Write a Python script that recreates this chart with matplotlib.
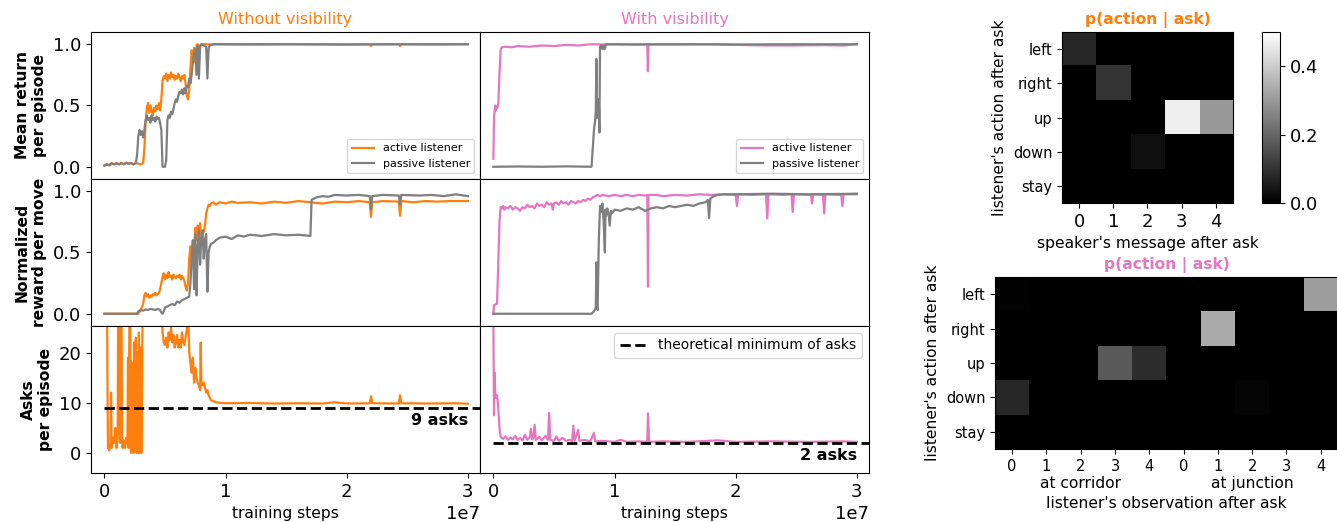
import matplotlib
matplotlib.use('Agg')
import matplotlib.pyplot as plt
import numpy as np

ORANGE = '#ff7f0e'
PINK = '#e377c2'
GRAY = '#7f7f7f'

# training curves, (steps in units of 1e7, value)
ret_nv_active = [(0.00, 0.01), (0.02, 0.02), (0.04, 0.015), (0.06, 0.03), (0.08, 0.02), (0.10, 0.025),
                 (0.12, 0.02), (0.14, 0.03), (0.16, 0.02), (0.18, 0.035), (0.20, 0.025), (0.22, 0.03),
                 (0.24, 0.02), (0.26, 0.03), (0.28, 0.025), (0.30, 0.02), (0.32, 0.03), (0.33, 0.15),
                 (0.34, 0.35), (0.35, 0.48), (0.36, 0.52), (0.37, 0.44), (0.38, 0.50), (0.39, 0.46),
                 (0.40, 0.42), (0.41, 0.48), (0.42, 0.45), (0.43, 0.50), (0.44, 0.47), (0.45, 0.52),
                 (0.46, 0.46), (0.47, 0.55), (0.48, 0.70), (0.49, 0.74), (0.50, 0.72), (0.51, 0.76),
                 (0.52, 0.70), (0.53, 0.75), (0.54, 0.72), (0.55, 0.77), (0.56, 0.73), (0.57, 0.75),
                 (0.58, 0.71), (0.59, 0.74), (0.60, 0.72), (0.61, 0.76), (0.62, 0.73), (0.63, 0.70),
                 (0.64, 0.74), (0.65, 0.72), (0.66, 0.75), (0.67, 0.68), (0.68, 0.58), (0.69, 0.55),
                 (0.70, 0.62), (0.71, 0.80), (0.72, 0.95), (0.73, 0.88), (0.74, 0.97), (0.75, 0.85),
                 (0.76, 0.99), (0.77, 1.0), (0.78, 0.98), (0.80, 1.0), (0.90, 1.0), (1.20, 0.998),
                 (1.60, 1.0), (2.00, 0.998), (2.19, 1.0), (2.20, 0.985), (2.21, 1.0), (2.43, 1.0),
                 (2.44, 0.985), (2.45, 1.0), (2.70, 0.998), (3.00, 1.0)]
ret_nv_passive = [(0.00, 0.01), (0.02, 0.02), (0.04, 0.01), (0.06, 0.025), (0.08, 0.02), (0.10, 0.03),
                  (0.12, 0.02), (0.14, 0.03), (0.16, 0.02), (0.18, 0.03), (0.20, 0.025), (0.22, 0.03),
                  (0.24, 0.02), (0.26, 0.03), (0.27, 0.10), (0.28, 0.25), (0.29, 0.30), (0.30, 0.26),
                  (0.31, 0.29), (0.32, 0.24), (0.33, 0.30), (0.34, 0.38), (0.35, 0.42), (0.36, 0.38),
                  (0.37, 0.40), (0.38, 0.36), (0.39, 0.42), (0.40, 0.38), (0.41, 0.40), (0.42, 0.37),
                  (0.43, 0.41), (0.44, 0.39), (0.45, 0.40), (0.46, 0.36), (0.47, 0.30), (0.48, 0.0),
                  (0.50, 0.0), (0.51, 0.05), (0.52, 0.38), (0.53, 0.42), (0.54, 0.40), (0.55, 0.45),
                  (0.56, 0.43), (0.57, 0.47), (0.58, 0.52), (0.59, 0.55), (0.60, 0.53), (0.61, 0.58),
                  (0.62, 0.61), (0.63, 0.60), (0.64, 0.63), (0.65, 0.59), (0.66, 0.64), (0.67, 0.60),
                  (0.68, 0.66), (0.69, 0.65), (0.70, 0.72), (0.71, 0.68), (0.72, 0.75), (0.73, 0.85),
                  (0.74, 0.93), (0.75, 0.96), (0.76, 0.75), (0.77, 0.99), (0.78, 0.72), (0.79, 0.98),
                  (0.80, 1.0), (0.82, 0.99), (0.84, 0.98), (0.85, 0.72), (0.86, 0.97), (0.87, 0.99),
                  (0.90, 1.0), (1.50, 1.0), (2.00, 0.998), (2.50, 1.0), (3.00, 1.0)]

nrm_nv_active = [(0.00, 0.0), (0.28, 0.0), (0.30, 0.03), (0.32, 0.08), (0.33, 0.15), (0.34, 0.17),
                 (0.35, 0.14), (0.36, 0.16), (0.37, 0.13), (0.38, 0.15), (0.39, 0.14), (0.40, 0.16),
                 (0.41, 0.15), (0.42, 0.17), (0.43, 0.15), (0.44, 0.16), (0.45, 0.17), (0.46, 0.20),
                 (0.47, 0.25), (0.48, 0.30), (0.49, 0.33), (0.50, 0.28), (0.51, 0.32), (0.52, 0.29),
                 (0.53, 0.34), (0.54, 0.30), (0.55, 0.31), (0.56, 0.28), (0.57, 0.32), (0.58, 0.30),
                 (0.59, 0.29), (0.60, 0.31), (0.61, 0.30), (0.62, 0.32), (0.63, 0.28), (0.64, 0.31),
                 (0.65, 0.29), (0.66, 0.27), (0.67, 0.22), (0.68, 0.19), (0.69, 0.25), (0.70, 0.45),
                 (0.71, 0.55), (0.72, 0.40), (0.73, 0.58), (0.74, 0.50), (0.75, 0.70), (0.76, 0.60),
                 (0.77, 0.72), (0.78, 0.65), (0.79, 0.74), (0.80, 0.64), (0.81, 0.66), (0.82, 0.67),
                 (0.83, 0.72), (0.84, 0.82), (0.85, 0.86), (0.86, 0.89), (0.87, 0.88), (0.88, 0.90),
                 (0.90, 0.91), (0.92, 0.89), (0.95, 0.91), (1.00, 0.90), (1.05, 0.915), (1.10, 0.905),
                 (1.20, 0.91), (1.30, 0.90), (1.40, 0.915), (1.50, 0.905), (1.60, 0.92), (1.70, 0.91),
                 (1.80, 0.90), (1.90, 0.915), (2.00, 0.91), (2.10, 0.92), (2.19, 0.91), (2.20, 0.79),
                 (2.21, 0.91), (2.30, 0.92), (2.43, 0.915), (2.44, 0.80), (2.45, 0.92), (2.55, 0.91),
                 (2.65, 0.92), (2.75, 0.915), (2.85, 0.92), (3.00, 0.92)]
nrm_nv_passive = [(0.00, 0.0), (0.27, 0.0), (0.28, 0.02), (0.30, 0.03), (0.32, 0.025), (0.34, 0.035),
                  (0.36, 0.03), (0.38, 0.04), (0.40, 0.035), (0.42, 0.03), (0.44, 0.04), (0.46, 0.03),
                  (0.47, 0.01), (0.48, 0.0), (0.49, 0.02), (0.50, 0.05), (0.52, 0.06), (0.54, 0.07),
                  (0.56, 0.08), (0.58, 0.07), (0.60, 0.10), (0.62, 0.09), (0.64, 0.11), (0.66, 0.12),
                  (0.68, 0.13), (0.70, 0.14), (0.71, 0.25), (0.72, 0.45), (0.73, 0.60), (0.74, 0.20),
                  (0.75, 0.65), (0.76, 0.15), (0.77, 0.55), (0.78, 0.68), (0.79, 0.40), (0.80, 0.62),
                  (0.81, 0.68), (0.82, 0.45), (0.83, 0.60), (0.84, 0.65), (0.85, 0.18), (0.86, 0.50),
                  (0.87, 0.55), (0.88, 0.57), (0.90, 0.58), (0.92, 0.60), (0.95, 0.62), (1.00, 0.63),
                  (1.05, 0.61), (1.10, 0.64), (1.15, 0.63), (1.20, 0.645), (1.30, 0.635), (1.40, 0.65),
                  (1.50, 0.64), (1.60, 0.645), (1.70, 0.635), (1.71, 0.93), (1.75, 0.95), (1.80, 0.96),
                  (1.85, 0.955), (1.90, 0.97), (2.00, 0.965), (2.10, 0.97), (2.19, 0.96), (2.20, 0.85),
                  (2.21, 0.96), (2.30, 0.97), (2.43, 0.965), (2.44, 0.89), (2.45, 0.97), (2.60, 0.965),
                  (2.70, 0.97), (2.80, 0.96), (2.90, 0.975), (3.00, 0.96)]

asks_nv = [(0.02, 40), (0.025, 16), (0.03, 1.0), (0.04, 0.5), (0.05, 2), (0.055, 12), (0.06, 1),
           (0.07, 3), (0.08, 2), (0.09, 5), (0.10, 1), (0.11, 3), (0.115, 40), (0.12, 30), (0.13, 2),
           (0.14, 40), (0.145, 3), (0.15, 1), (0.16, 2.5), (0.17, 1), (0.18, 3), (0.19, 2), (0.195, 19),
           (0.20, 1), (0.21, 40), (0.22, 0), (0.23, 18), (0.24, 0), (0.245, 22), (0.25, 1), (0.26, 23),
           (0.265, 0), (0.27, 20), (0.28, 0), (0.285, 24), (0.29, 0), (0.30, 21), (0.305, 0), (0.31, 13),
           (0.32, 40), (0.40, 45), (0.46, 38), (0.47, 30), (0.48, 24), (0.49, 22), (0.50, 21.5),
           (0.51, 23), (0.52, 21), (0.53, 24), (0.54, 22.5), (0.55, 25), (0.56, 22), (0.57, 23.5),
           (0.58, 21), (0.59, 22), (0.60, 23.5), (0.61, 21), (0.62, 22.5), (0.63, 21), (0.64, 24),
           (0.65, 22), (0.66, 21.5), (0.67, 23), (0.68, 24.5), (0.69, 30), (0.70, 20), (0.71, 18),
           (0.72, 16), (0.73, 19), (0.74, 14), (0.75, 17), (0.76, 15), (0.77, 14), (0.78, 13.5),
           (0.79, 12.5), (0.795, 22), (0.80, 14), (0.81, 13.5), (0.82, 14), (0.83, 13), (0.84, 12),
           (0.85, 12.5), (0.86, 11.5), (0.87, 11), (0.88, 10.5), (0.90, 10.3), (0.92, 10.1),
           (0.95, 10.0), (1.00, 9.9), (1.20, 9.95), (1.40, 9.85), (1.60, 9.9), (1.80, 9.85),
           (1.90, 10.1), (2.00, 9.85), (2.19, 9.9), (2.20, 11.3), (2.21, 9.9), (2.43, 9.85),
           (2.44, 11.5), (2.45, 9.9), (2.70, 9.85), (2.90, 9.9), (3.00, 9.8)]

ret_v_active = [(0.000, 0.065), (0.005, 0.40), (0.010, 0.45), (0.015, 0.50), (0.020, 0.46), (0.030, 0.48),
                (0.040, 0.50), (0.050, 0.75), (0.060, 0.96), (0.070, 0.975), (0.10, 0.98), (0.15, 0.975),
                (0.20, 0.985), (0.30, 0.98), (0.40, 0.99), (0.50, 0.985), (0.60, 0.995), (0.70, 0.99),
                (0.80, 1.0), (0.90, 0.998), (1.00, 1.0), (1.20, 0.998), (1.27, 1.0), (1.275, 0.78),
                (1.28, 1.0), (1.50, 0.998), (1.80, 1.0), (2.00, 0.995), (2.26, 0.99), (2.47, 0.99),
                (2.72, 0.993), (2.89, 0.99), (3.00, 1.0)]
ret_v_passive = [(0.00, 0.0), (0.20, 0.002), (0.40, 0.0), (0.60, 0.003), (0.81, 0.0), (0.82, 0.15),
                 (0.83, 0.30), (0.84, 0.38), (0.845, 0.45), (0.85, 0.88), (0.855, 0.40), (0.86, 0.50),
                 (0.87, 0.55), (0.875, 0.28), (0.88, 0.98), (0.89, 0.99), (0.90, 0.96), (0.91, 0.99),
                 (0.92, 0.96), (0.93, 1.0), (1.20, 0.998), (1.60, 1.0), (2.00, 0.998), (2.50, 1.0),
                 (3.00, 1.0)]

nrm_v_active = [(0.000, 0.0), (0.005, 0.07), (0.01, 0.07), (0.02, 0.08), (0.03, 0.08), (0.04, 0.40),
                (0.05, 0.75), (0.06, 0.87), (0.07, 0.86), (0.08, 0.88), (0.09, 0.85), (0.10, 0.87),
                (0.12, 0.86), (0.14, 0.88), (0.16, 0.85), (0.18, 0.87), (0.20, 0.86), (0.22, 0.84),
                (0.24, 0.87), (0.26, 0.86), (0.28, 0.89), (0.30, 0.87), (0.32, 0.88), (0.34, 0.86),
                (0.36, 0.90), (0.38, 0.88), (0.40, 0.89), (0.42, 0.87), (0.44, 0.91), (0.46, 0.89),
                (0.48, 0.90), (0.49, 0.85), (0.50, 0.90), (0.52, 0.91), (0.54, 0.89), (0.56, 0.92),
                (0.58, 0.90), (0.60, 0.91), (0.62, 0.89), (0.64, 0.92), (0.66, 0.91), (0.68, 0.90),
                (0.70, 0.92), (0.72, 0.91), (0.74, 0.93), (0.76, 0.92), (0.78, 0.94), (0.80, 0.93),
                (0.82, 0.95), (0.84, 0.96), (0.86, 0.97), (0.88, 0.96), (0.90, 0.97), (0.95, 0.96),
                (1.00, 0.97), (1.05, 0.96), (1.10, 0.97), (1.15, 0.96), (1.20, 0.97), (1.25, 0.965),
                (1.27, 0.97), (1.276, 0.22), (1.28, 0.97), (1.35, 0.97), (1.40, 0.96), (1.50, 0.97),
                (1.60, 0.965), (1.70, 0.975), (1.80, 0.97), (1.90, 0.975), (2.00, 0.97), (2.01, 0.88),
                (2.02, 0.975), (2.15, 0.97), (2.25, 0.975), (2.26, 0.78), (2.27, 0.975), (2.40, 0.97),
                (2.46, 0.975), (2.47, 0.83), (2.48, 0.975), (2.62, 0.97), (2.63, 0.90), (2.64, 0.975),
                (2.72, 0.97), (2.73, 0.82), (2.74, 0.975), (2.87, 0.97), (2.88, 0.88), (2.89, 0.975),
                (3.00, 0.975)]
nrm_v_passive = [(0.00, 0.0), (0.81, 0.0), (0.83, 0.02), (0.845, 0.05), (0.85, 0.42), (0.855, 0.06),
                 (0.86, 0.03), (0.87, 0.60), (0.88, 0.88), (0.89, 0.83), (0.90, 0.90), (0.91, 0.75),
                 (0.92, 0.50), (0.925, 0.85), (0.93, 0.80), (0.94, 0.86), (0.95, 0.82), (0.96, 0.72),
                 (0.97, 0.84), (0.98, 0.82), (1.00, 0.85), (1.05, 0.84), (1.10, 0.86), (1.15, 0.85),
                 (1.20, 0.87), (1.25, 0.84), (1.30, 0.86), (1.35, 0.87), (1.40, 0.86), (1.45, 0.88),
                 (1.50, 0.87), (1.55, 0.88), (1.60, 0.89), (1.65, 0.88), (1.70, 0.90), (1.75, 0.91),
                 (1.77, 0.93), (1.78, 0.78), (1.79, 0.94), (1.82, 0.96), (1.85, 0.97), (1.90, 0.975),
                 (2.00, 0.975), (2.30, 0.98), (2.60, 0.975), (3.00, 0.98)]

asks_v = [(0.000, 26), (0.005, 7.5), (0.010, 16), (0.015, 12), (0.020, 11), (0.030, 11.5), (0.040, 9),
          (0.050, 5), (0.060, 3.2), (0.08, 2.8), (0.10, 3.3), (0.12, 2.6), (0.14, 3.1), (0.16, 2.7),
          (0.18, 3.4), (0.20, 2.6), (0.22, 3.0), (0.24, 2.5), (0.26, 3.6), (0.28, 2.6), (0.30, 3.1),
          (0.31, 4.8), (0.32, 2.7), (0.33, 3.0), (0.34, 5.6), (0.35, 2.6), (0.38, 3.2), (0.40, 2.5),
          (0.43, 3.4), (0.45, 2.6), (0.46, 8.0), (0.47, 2.6), (0.50, 2.4), (0.52, 3.3), (0.54, 2.4),
          (0.57, 3.0), (0.60, 2.4), (0.63, 2.6), (0.65, 2.4), (0.66, 5.4), (0.67, 2.4), (0.70, 4.6),
          (0.71, 2.4), (0.75, 2.6), (0.80, 2.3), (0.83, 4.0), (0.84, 2.3), (0.90, 2.4), (1.00, 2.2),
          (1.05, 2.6), (1.10, 2.2), (1.20, 2.3), (1.27, 2.2), (1.276, 7.9), (1.285, 2.2), (1.40, 2.3),
          (1.60, 2.2), (1.85, 2.5), (2.00, 2.2), (2.30, 2.3), (2.60, 2.2), (2.90, 2.3), (3.00, 2.2)]

min_asks = [9, 2]

# heatmaps p(action | ask)
actions = ['left', 'right', 'up', 'down', 'stay']
messages = ['0', '1', '2', '3', '4']
p_msg = [[0.075, 0.0, 0.0, 0.0, 0.0],
         [0.0, 0.10, 0.0, 0.0, 0.0],
         [0.0, 0.0, 0.0, 0.467, 0.30],
         [0.0, 0.0, 0.033, 0.0, 0.0],
         [0.0, 0.0, 0.0, 0.0, 0.0]]
obs_labels = ['0', '1', '2', '3', '4', '0', '1', '2', '3', '4']
p_obs = [[0.005, 0.0, 0.0, 0.0, 0.0, 0.0, 0.0, 0.0, 0.0, 0.31],
         [0.0, 0.0, 0.0, 0.0, 0.0, 0.0, 0.333, 0.0, 0.0, 0.0],
         [0.0, 0.0, 0.0, 0.176, 0.088, 0.0, 0.0, 0.0, 0.0, 0.0],
         [0.078, 0.0, 0.0, 0.0, 0.0, 0.0, 0.0, 0.008, 0.0, 0.0],
         [0.0, 0.0, 0.0, 0.0, 0.0, 0.0, 0.0, 0.0, 0.0, 0.0]]


def xy(series):
    x, y = zip(*series)
    return np.array(x) * 1e7, np.array(y)


plt.rcParams['xtick.labelsize'] = 13
plt.rcParams['ytick.labelsize'] = 13
FS = 11.2

fig = plt.figure(figsize=(13.37, 5.22), dpi=100)
gs = fig.add_gridspec(3, 2, left=0.0681, right=0.650, top=0.9387, bottom=0.0939,
                      hspace=0, wspace=0)
axes = gs.subplots(sharex=True, sharey='row')

curves = [
    [(ret_nv_active, ret_nv_passive), (ret_v_active, ret_v_passive)],
    [(nrm_nv_active, nrm_nv_passive), (nrm_v_active, nrm_v_passive)],
]
colors = [ORANGE, PINK]

for r in range(2):
    for c in range(2):
        ax = axes[r, c]
        act, pas = curves[r][c]
        ax.plot(*xy(act), color=colors[c], lw=1.6, label='active listener')
        ax.plot(*xy(pas), color=GRAY, lw=1.6, label='passive listener')
        ax.set_ylim(-0.1, 1.1)
        ax.set_yticks([0.0, 0.5, 1.0])
        if r == 0:
            ax.legend(loc='lower right', fontsize=8)

for c, data in enumerate([asks_nv, asks_v]):
    ax = axes[2, c]
    ax.plot(*xy(data), color=colors[c], lw=1.6)
    ax.hlines(min_asks[c], 0, 3.1e7, colors='k', linestyles='--', lw=2,
              label='theoretical minimum of asks')
    ax.text(3.0e7, min_asks[c] - 2.6, f'{min_asks[c]} asks', ha='right', va='center',
            fontsize=11.5, fontweight='bold')
    ax.set_ylim(-4, 25.3)
    ax.set_yticks([0, 10, 20])
    ax.set_xlabel('training steps', fontsize=FS)
axes[2, 1].legend(loc='upper right', fontsize=10)

axes[0, 0].set_xlim(-0.11e7, 3.1e7)
axes[0, 0].set_xticks([0, 1e7, 2e7, 3e7])
for r in range(3):
    axes[r, 1].tick_params(left=False)

axes[0, 0].set_title('Without visibility', color=ORANGE, fontsize=11.5)
axes[0, 1].set_title('With visibility', color=PINK, fontsize=11.5)
axes[0, 0].set_ylabel('Mean return\nper episode', fontweight='bold', fontsize=FS)
axes[1, 0].set_ylabel('Normalized\nreward per move', fontweight='bold', fontsize=FS)
axes[2, 0].set_ylabel('Asks\nper episode', fontweight='bold', fontsize=FS)

# heatmap without visibility
hm1 = fig.add_axes([0.7943, 0.6111, 0.1279, 0.3276])
im = hm1.imshow(p_msg, cmap='gray', vmin=0, vmax=0.5, aspect='auto')
hm1.set_xticks(range(len(messages)), messages, fontsize=13)
hm1.set_yticks(range(len(actions)), actions, fontsize=10.5)
hm1.set_xlabel("speaker's message after ask", fontsize=FS)
hm1.set_ylabel("listener's action after ask", fontsize=FS)
hm1.set_title('p(action | ask)', color=ORANGE, fontweight='bold', fontsize=FS)
cax = fig.add_axes([0.9439, 0.6111, 0.01346, 0.3276])
cb = fig.colorbar(im, cax=cax, ticks=[0.0, 0.2, 0.4])
cb.ax.tick_params(labelsize=13)

# heatmap with visibility
hm2 = fig.add_axes([0.7442, 0.1398, 0.2565, 0.3295])
hm2.imshow(p_obs, cmap='gray', vmin=0, vmax=0.5, aspect='auto')
hm2.set_xticks(range(len(obs_labels)), obs_labels, fontsize=10.5)
hm2.set_yticks(range(len(actions)), actions, fontsize=10.5)
tr = hm2.get_xaxis_transform()
hm2.text(2, -0.2, 'at corridor', transform=tr, ha='center', va='center', fontsize=FS)
hm2.text(7, -0.2, 'at junction', transform=tr, ha='center', va='center', fontsize=FS)
hm2.set_xlabel("listener's observation after ask", fontsize=FS, labelpad=16)
hm2.set_ylabel("listener's action after ask", fontsize=FS)
hm2.set_title('p(action | ask)', color=PINK, fontweight='bold', fontsize=FS)

fig.savefig('out.png', dpi=100)
